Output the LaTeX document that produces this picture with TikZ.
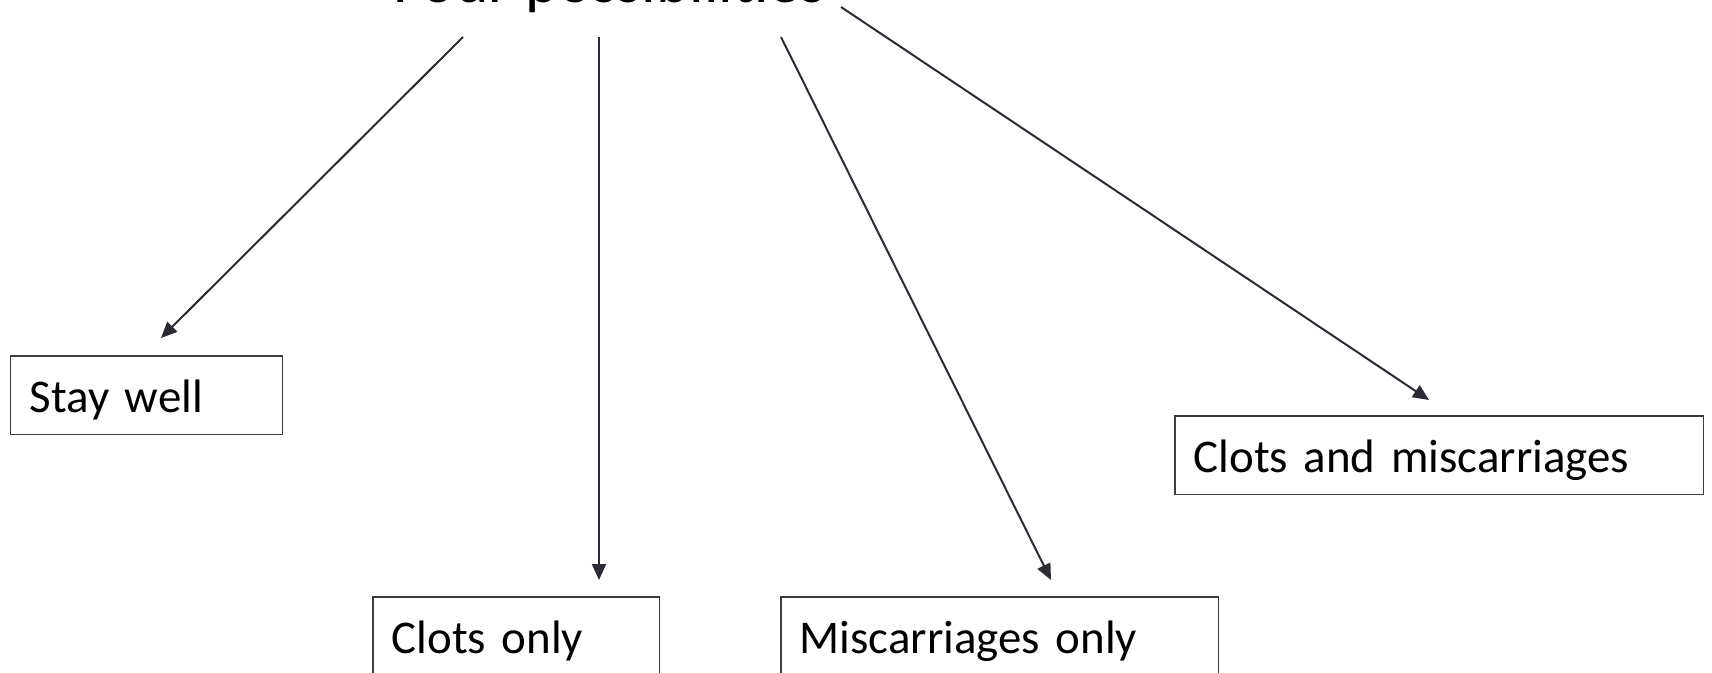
\documentclass[tikz,border=0pt]{standalone}
\usepackage{fontspec}
\setmainfont{Carlito}
\usetikzlibrary{arrows.meta}

\definecolor{linegray}{HTML}{2B2B33}
\definecolor{boxgray}{HTML}{3C3C3C}

\tikzset{
  outcome/.style={draw=boxgray, line width=0.03cm, anchor=north west, align=left,
    inner xsep=0.38cm, inner ysep=0pt, minimum height=1.58cm,
    text height=0.78cm, text depth=0.10cm, font=\fontsize{26.7}{32}\selectfont},
  branch/.style={draw=linegray, line width=0.04cm,
    -{Triangle[length=0.32cm, width=0.28cm]}}
}

\begin{document}
\begin{tikzpicture}[x=0.02cm, y=-0.02cm]
            \useasboundingbox (0,0) rectangle (1712,673);

            % title, cut by the top edge
            \node[anchor=base west, inner sep=0pt, font=\fontsize{36.2}{42}\selectfont] (title) at (393,2) {Four possibilities};

            % outcomes
            \node[outcome, text width=4.68cm] (stay) at (10,355) {Stay well};
            \node[outcome, text width=4.98cm] (clots) at (372,596) {Clots only};
            \node[outcome, text width=8.00cm] (misc) at (780,596) {Miscarriages only};
            \node[outcome, text width=9.82cm] (both) at (1174,415) {Clots and miscarriages};

            % arrow ends
            \coordinate (s1) at (463,37);
            \coordinate (s2) at (599,37);
            \coordinate (s3) at (781,37);
            \coordinate (s4) at (841,7);
            \coordinate (e1) at (161,338);
            \coordinate (e2) at (599,580);
            \coordinate (e3) at (1051,580);
            \coordinate (e4) at (1429,400);

            \draw[branch] (s1) -- (e1);
            \draw[branch] (s2) -- (e2);
            \draw[branch] (s3) -- (e3);
            \draw[branch] (s4) -- (e4);
\end{tikzpicture}
\end{document}
